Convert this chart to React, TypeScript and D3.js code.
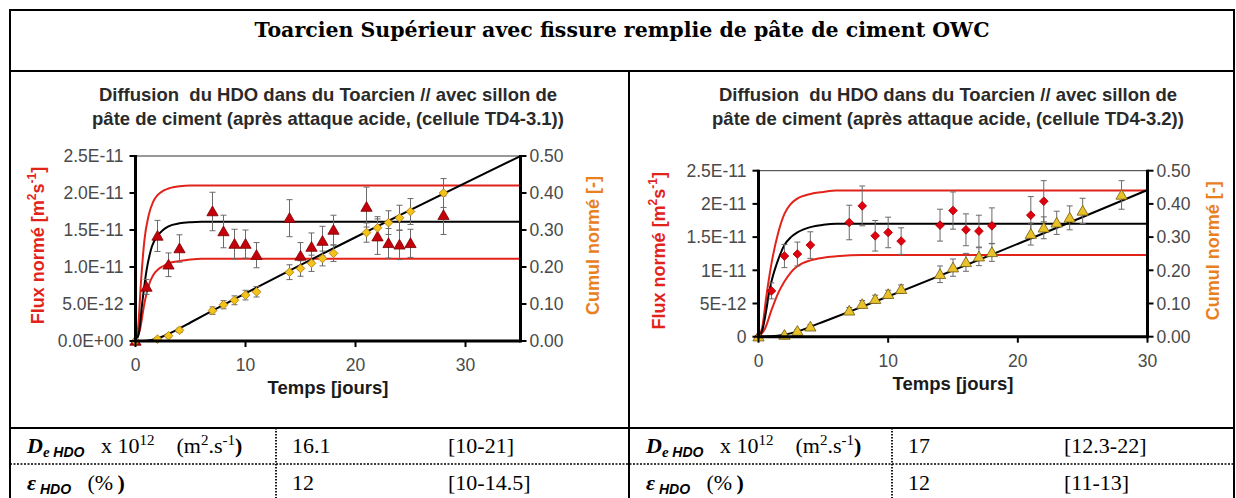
import React from 'react';
import * as d3 from 'd3';

const W = 1236;
const H = 498;

const mainTitle = 'Toarcien Supérieur avec fissure remplie de pâte de ciment OWC';

// ---------- Chart 1 (TD4-3.1) ----------
const titleL = ['Diffusion\u00a0 du HDO dans du Toarcien // avec sillon de', 'pâte de ciment (après attaque acide, (cellule TD4-3.1))'];
const fluxDaysL = [0, 1, 2, 3, 4, 7, 8, 9, 10, 11, 14, 15, 16, 17, 18, 21, 22, 23, 24, 25, 28];
const fluxL = [0, 7.3, 14.2, 10.3, 12.5, 17.5, 14.8, 13.1, 13.1, 11.6, 16.6, 11.5, 12.7, 13.5, 15.0, 18.1, 14.1, 13.2, 13.0, 13.2, 17.0];
const fluxErrL = [0, 1.0, 2.1, 1.6, 1.85, 2.6, 2.2, 2.0, 1.9, 1.7, 2.5, 1.8, 1.9, 2.0, 2.0, 2.7, 2.4, 2.0, 2.0, 1.9, 2.6];
const cumDaysL = [0, 2, 3, 4, 7, 8, 9, 10, 11, 14, 15, 16, 17, 18, 21, 22, 23, 24, 25, 28];
const cumulL = [0, 0.005, 0.014, 0.029, 0.082, 0.098, 0.11, 0.124, 0.133, 0.186, 0.196, 0.21, 0.223, 0.237, 0.293, 0.306, 0.32, 0.333, 0.35, 0.4];
const cumulErrL = [0, 0.004, 0.005, 0.006, 0.01, 0.011, 0.012, 0.013, 0.014, 0.02, 0.021, 0.022, 0.02, 0.022, 0.026, 0.03, 0.032, 0.034, 0.035, 0.039];
const fitFluxTL = [0, 0.3, 0.6, 1, 1.5, 2, 2.5, 3, 4, 5, 6, 35];
const fitFluxL = [0, 1, 5, 9.5, 12.8, 14.2, 15, 15.5, 15.9, 16.05, 16.1, 16.1];
const fitHighTL = [0, 0.25, 0.5, 0.8, 1.2, 1.6, 2, 2.5, 3, 4, 5, 35];
const fitHighL = [0, 2, 8, 13.5, 17, 18.8, 19.7, 20.3, 20.6, 20.9, 21, 21];
const fitLowTL = [0, 0.4, 0.8, 1.2, 1.6, 2, 2.5, 3, 4, 5, 6, 35];
const fitLowL = [0, 1.5, 5, 7.5, 8.9, 9.6, 10.1, 10.5, 10.8, 11, 11.1, 11.1];
const fitCumTL = [0, 1, 2, 3, 4, 5, 35];
const fitCumL = [0, 0.001, 0.007, 0.019, 0.034, 0.05, 0.5];
const fluxTicksL = ['0.0E+00', '5.0E-12', '1.0E-11', '1.5E-11', '2.0E-11', '2.5E-11'];

// ---------- Chart 2 (TD4-3.2) ----------
const titleR = ['Diffusion\u00a0 du HDO dans du Toarcien // avec sillon de', 'pâte de ciment (après attaque acide, (cellule TD4-3.2))'];
const fluxDaysR = [0, 1, 2, 3, 4, 7, 8, 9, 10, 11, 14, 15, 16, 17, 18, 21, 22];
const fluxR = [0, 6.9, 12.15, 12.45, 13.8, 17.2, 19.7, 15.2, 15.7, 14.4, 16.8, 19.0, 16.1, 15.9, 16.7, 18.3, 20.4];
const fluxErrR = [0, 1.2, 1.75, 1.8, 2.0, 2.6, 3.0, 2.3, 2.3, 2.0, 2.4, 2.8, 2.4, 2.4, 2.7, 2.8, 3.1];
const cumDaysR = [0, 2, 3, 4, 7, 8, 9, 10, 11, 14, 15, 16, 17, 18, 21, 22, 23, 24, 25, 28];
const cumulR = [0, 0.005, 0.017, 0.03, 0.078, 0.098, 0.113, 0.128, 0.143, 0.188, 0.208, 0.224, 0.241, 0.254, 0.309, 0.328, 0.343, 0.358, 0.379, 0.427];
const cumulErrR = [0, 0.004, 0.005, 0.006, 0.01, 0.011, 0.012, 0.012, 0.013, 0.025, 0.026, 0.027, 0.027, 0.027, 0.033, 0.033, 0.035, 0.036, 0.038, 0.043];
const fitFluxTR = [0, 0.3, 0.6, 0.8, 1, 1.5, 2, 2.5, 3, 4, 5, 6, 30];
const fitFluxR = [0, 1, 4, 6.5, 8.3, 11.5, 13.8, 15, 15.7, 16.5, 16.85, 17, 17];
const fitHighTR = [0, 0.3, 0.6, 1, 1.5, 2, 2.5, 3, 4, 5, 6, 30];
const fitHighR = [0, 1.5, 6, 11, 15.5, 18.5, 20, 20.8, 21.5, 21.8, 22, 22];
const fitLowTR = [0, 0.5, 1, 1.5, 2, 2.5, 3, 4, 5, 6, 8, 30];
const fitLowR = [0, 1.2, 4.0, 6.5, 8.3, 9.7, 10.6, 11.5, 11.9, 12.1, 12.3, 12.3];
const fitCumTR = [0, 1, 2, 3, 4, 5, 6, 30];
const fitCumR = [0, 0.001, 0.006, 0.016, 0.03, 0.045, 0.06, 0.442];
const fluxTicksR = ['0', '5E-12', '1E-11', '1.5E-11', '2E-11', '2.5E-11'];

const fluxTickValues = [0, 5, 10, 15, 20, 25];
const cumTickValues = [0, 0.1, 0.2, 0.3, 0.4, 0.5];
const cumTickLabels = ['0.00', '0.10', '0.20', '0.30', '0.40', '0.50'];
const dayTicks = [0, 10, 20, 30];

// ---------- Table ----------
const valueDe = ['16.1', '17'];
const rangeDe = ['[10-21]', '[12.3-22]'];
const valueEps = ['12', '12'];
const rangeEps = ['[10-14.5]', '[11-13]'];

const RED = '#e2231a';
const ORANGE = '#e8801e';
const SANS = 'Liberation Sans, Arial, sans-serif';
const SERIF = 'Liberation Serif, serif';
const TITLE_SERIF = 'DejaVu Serif, serif';

const zip = (a: number[], b: number[]) => a.map((v, i) => [v, b[i]] as [number, number]);

type Cfg = {
  title: string[];
  cx: number;
  x0: number; x1: number; y0: number; y1: number;
  xMax: number;
  fluxDays: number[]; flux: number[]; fluxErr: number[];
  cumDays: number[]; cumul: number[]; cumulErr: number[];
  fit: [number[], number[]]; high: [number[], number[]]; low: [number[], number[]]; fitCum: [number[], number[]];
  fluxTicks: string[];
  fluxMarker: 'triangle' | 'diamond';
  yTitleX: number; cTitleX: number;
};

const triPath = d3.symbol().type(d3.symbolTriangle).size(55)() as string;
const diaPath = d3.symbol().type(d3.symbolSquare).size(38)() as string;

function Marker({ kind, x, y, fill, stroke }: { kind: string; x: number; y: number; fill: string; stroke: string }) {
  if (kind === 'triangle') {
    return <path d={triPath} transform={`translate(${x},${y + 1})`} fill={fill} stroke={stroke} strokeWidth={0.8} />;
  }
  return <path d={diaPath} transform={`translate(${x},${y}) rotate(45)`} fill={fill} stroke={stroke} strokeWidth={0.8} />;
}

function Chart({ c }: { c: Cfg }) {
  const x = d3.scaleLinear().domain([0, c.xMax]).range([c.x0, c.x1]);
  const yF = d3.scaleLinear().domain([0, 25]).range([c.y0, c.y1]);
  const yC = d3.scaleLinear().domain([0, 0.5]).range([c.y0, c.y1]);
  const lineF = d3.line<[number, number]>().x(d => x(d[0])).y(d => yF(d[1])).curve(d3.curveMonotoneX);
  const lineC = d3.line<[number, number]>().x(d => x(d[0])).y(d => yC(d[1])).curve(d3.curveMonotoneX);
  const midY = (c.y0 + c.y1) / 2;
  const midX = (c.x0 + c.x1) / 2;
  const cumMarker = c.fluxMarker === 'triangle' ? 'diamond' : 'triangle';
  const fluxFill = c.fluxMarker === 'triangle' ? '#c4000a' : '#e00010';
  const fluxStroke = c.fluxMarker === 'triangle' ? '#7a0000' : '#b00000';
  const cumFill = c.fluxMarker === 'triangle' ? '#f3c317' : '#e9c22a';
  const cumStroke = c.fluxMarker === 'triangle' ? '#b07a10' : '#6e5a12';
  const errBar = (xv: number, lo: number, hi: number, key: string) => (
    <g key={key} stroke="#6a6a6a" strokeWidth={1}>
      <line x1={xv} x2={xv} y1={lo} y2={hi} />
      <line x1={xv - 3} x2={xv + 3} y1={lo} y2={lo} />
      <line x1={xv - 3} x2={xv + 3} y1={hi} y2={hi} />
    </g>
  );
  return (
    <g>
      {c.title.map((t, i) => (
        <text key={i} x={c.cx} y={101 + i * 23.5} textAnchor="middle" fontFamily={SANS} fontWeight="bold" fontSize={18.5} fill="#2a2a2a">{t}</text>
      ))}
      {/* frame top */}
      <line x1={c.x0} x2={c.x1} y1={c.y1} y2={c.y1} stroke="#333" strokeWidth={1} />
      {/* fitted curves */}
      <path d={lineF(zip(c.high[0], c.high[1])) as string} fill="none" stroke={RED} strokeWidth={2} />
      <path d={lineF(zip(c.low[0], c.low[1])) as string} fill="none" stroke={RED} strokeWidth={2} />
      <path d={lineF(zip(c.fit[0], c.fit[1])) as string} fill="none" stroke="#000" strokeWidth={2} />
      <path d={lineC(zip(c.fitCum[0], c.fitCum[1])) as string} fill="none" stroke="#000" strokeWidth={2} />
      {/* error bars */}
      {c.fluxDays.map((t, i) => c.fluxErr[i] > 0 ? errBar(x(t), yF(c.flux[i] - c.fluxErr[i]), yF(c.flux[i] + c.fluxErr[i]), 'fe' + i) : null)}
      {c.cumDays.map((t, i) => c.cumulErr[i] > 0 ? errBar(x(t), yC(c.cumul[i] - c.cumulErr[i]), yC(c.cumul[i] + c.cumulErr[i]), 'ce' + i) : null)}
      {/* markers */}
      {c.fluxDays.map((t, i) => (
        <Marker key={'fm' + i} kind={c.fluxMarker} x={x(t)} y={yF(c.flux[i])} fill={fluxFill} stroke={fluxStroke} />
      ))}
      {c.cumDays.map((t, i) => (
        <Marker key={'cm' + i} kind={cumMarker} x={x(t)} y={yC(c.cumul[i])} fill={cumFill} stroke={cumStroke} />
      ))}
      {/* axes */}
      <line x1={c.x0} x2={c.x0} y1={c.y1 - 1} y2={c.y0 + 1.5} stroke="#000" strokeWidth={3} />
      <line x1={c.x1} x2={c.x1} y1={c.y1 - 1} y2={c.y0 + 1.5} stroke="#000" strokeWidth={3} />
      <line x1={c.x0} x2={c.x1} y1={c.y0} y2={c.y0} stroke="#000" strokeWidth={3} />
      {fluxTickValues.map((v, i) => (
        <g key={'yt' + i}>
          <line x1={c.x0 - 6} x2={c.x0} y1={yF(v)} y2={yF(v)} stroke="#000" strokeWidth={2} />
          <text x={c.x0 - 12} y={yF(v)} dy="0.36em" textAnchor="end" fontFamily={SANS} fontSize={17.5} fill="#4a4a4a">{c.fluxTicks[i]}</text>
        </g>
      ))}
      {cumTickValues.map((v, i) => (
        <g key={'ct' + i}>
          <line x1={c.x1} x2={c.x1 + 6} y1={yC(v)} y2={yC(v)} stroke="#000" strokeWidth={2} />
          <text x={c.x1 + 9} y={yC(v)} dy="0.36em" textAnchor="start" fontFamily={SANS} fontSize={17.5} fill="#4a4a4a">{cumTickLabels[i]}</text>
        </g>
      ))}
      {dayTicks.map((v, i) => (
        <g key={'xt' + i}>
          <line x1={x(v)} x2={x(v)} y1={c.y0} y2={c.y0 + 6} stroke="#000" strokeWidth={2} />
          <text x={x(v)} y={c.y0 + 30} textAnchor="middle" fontFamily={SANS} fontSize={17.5} fill="#4a4a4a">{v}</text>
        </g>
      ))}
      <text x={midX} y={c.y0 + 53} textAnchor="middle" fontFamily={SANS} fontWeight="bold" fontSize={18.5} fill="#1a1a1a">Temps [jours]</text>
      <text transform={`translate(${c.yTitleX},${midY - 3}) rotate(-90)`} textAnchor="middle" dominantBaseline="central" fontFamily={SANS} fontWeight="bold" fontSize={18} fill={RED}>
        Flux normé [m<tspan fontSize={12} dy={-6}>2</tspan><tspan dy={6}>s</tspan><tspan fontSize={12} dy={-6}>-1</tspan><tspan dy={6}>]</tspan>
      </text>
      <text transform={`translate(${c.cTitleX},${midY - 3}) rotate(-90)`} textAnchor="middle" dominantBaseline="central" fontFamily={SANS} fontWeight="bold" fontSize={18} fill={ORANGE}>
        Cumul normé [-]
      </text>
    </g>
  );
}

const cfgL: Cfg = {
  title: titleL, cx: 328,
  x0: 135.5, x1: 520.5, y0: 341, y1: 156, xMax: 35,
  fluxDays: fluxDaysL, flux: fluxL, fluxErr: fluxErrL,
  cumDays: cumDaysL, cumul: cumulL, cumulErr: cumulErrL,
  fit: [fitFluxTL, fitFluxL], high: [fitHighTL, fitHighL], low: [fitLowTL, fitLowL], fitCum: [fitCumTL, fitCumL],
  fluxTicks: fluxTicksL, fluxMarker: 'triangle', yTitleX: 38, cTitleX: 593,
};
const cfgR: Cfg = {
  title: titleR, cx: 948,
  x0: 758.5, x1: 1147.5, y0: 336.7, y1: 170.7, xMax: 30,
  fluxDays: fluxDaysR, flux: fluxR, fluxErr: fluxErrR,
  cumDays: cumDaysR, cumul: cumulR, cumulErr: cumulErrR,
  fit: [fitFluxTR, fitFluxR], high: [fitHighTR, fitHighR], low: [fitLowTR, fitLowR], fitCum: [fitCumTR, fitCumR],
  fluxTicks: fluxTicksR, fluxMarker: 'diamond', yTitleX: 659, cTitleX: 1213,
};

function DeLabel({ x, y }: { x: number; y: number }) {
  return (
    <text x={x} y={y} fontFamily={SERIF} fontSize={22} fill="#000">
      <tspan fontWeight="bold" fontStyle="italic">D</tspan>
      <tspan fontSize={15} fontWeight="bold" fontStyle="italic" dy={4}>{'e '}</tspan>
      <tspan fontSize={14} fontFamily={SANS} fontWeight="bold" fontStyle="italic">HDO</tspan>
      <tspan dy={-4}>{'\u00a0\u00a0\u00a0x 10'}</tspan>
      <tspan fontSize={15} dy={-8}>12</tspan>
      <tspan dy={8}>{'\u00a0\u00a0\u00a0\u00a0(m'}</tspan>
      <tspan fontSize={15} dy={-8}>2</tspan>
      <tspan dy={8}>.s</tspan>
      <tspan fontSize={15} dy={-8}>-1</tspan>
      <tspan dy={8} fontWeight="bold">)</tspan>
    </text>
  );
}

function EpsLabel({ x, y }: { x: number; y: number }) {
  return (
    <text x={x} y={y} fontFamily={SERIF} fontSize={22} fill="#000">
      <tspan fontWeight="bold" fontStyle="italic">ε</tspan>
      <tspan fontSize={14} fontFamily={SANS} fontWeight="bold" fontStyle="italic" dy={4}>{'\u00a0HDO'}</tspan>
      <tspan dy={-4}>{'\u00a0\u00a0\u00a0(%\u2009'}</tspan>
      <tspan fontWeight="bold">)</tspan>
    </text>
  );
}

export default function App() {
  const lineY1 = 71;
  const lineY2 = 428;
  const lineY3 = 464;
  const midX = 629;
  const dotX = [276, 892];
  const halfX = [10, midX];
  return (
    <svg width={W} height={H} style={{ position: 'absolute', left: 0, top: 0, background: '#fff' }}>
      <rect x={0} y={0} width={W} height={H} fill="#fff" />
      {/* table grid */}
      <line x1={10} x2={1234} y1={10} y2={10} stroke="#000" strokeWidth={2} />
      <line x1={10} x2={1234} y1={lineY1} y2={lineY1} stroke="#000" strokeWidth={2} />
      <line x1={10} x2={1234} y1={lineY2} y2={lineY2} stroke="#000" strokeWidth={2} />
      <line x1={10} x2={1234} y1={lineY3} y2={lineY3} stroke="#000" strokeWidth={1.5} strokeDasharray="2 1.5" />
      <line x1={10} x2={10} y1={9} y2={H} stroke="#000" strokeWidth={2} />
      <line x1={1234} x2={1234} y1={9} y2={H} stroke="#000" strokeWidth={2} />
      <line x1={midX} x2={midX} y1={lineY1} y2={H} stroke="#000" strokeWidth={2} />
      {dotX.map((dx, i) => (
        <line key={i} x1={dx} x2={dx} y1={lineY2} y2={H} stroke="#000" strokeWidth={1.8} strokeDasharray="1.5 1.5" />
      ))}
      <text x={622} y={37} textAnchor="middle" fontFamily={TITLE_SERIF} fontWeight="bold" fontSize={20.5} fill="#000">{mainTitle}</text>
      <Chart c={cfgL} />
      <Chart c={cfgR} />
      {halfX.map((hx, i) => (
        <g key={'row' + i}>
          <DeLabel x={hx + 17} y={453} />
          <EpsLabel x={hx + 17} y={490} />
          <text x={dotX[i] + 16} y={453} fontFamily={SERIF} fontSize={22}>{valueDe[i]}</text>
          <text x={dotX[i] + 172} y={453} fontFamily={SERIF} fontSize={22}>{rangeDe[i]}</text>
          <text x={dotX[i] + 16} y={490} fontFamily={SERIF} fontSize={22}>{valueEps[i]}</text>
          <text x={dotX[i] + 172} y={490} fontFamily={SERIF} fontSize={22}>{rangeEps[i]}</text>
        </g>
      ))}
    </svg>
  );
}
